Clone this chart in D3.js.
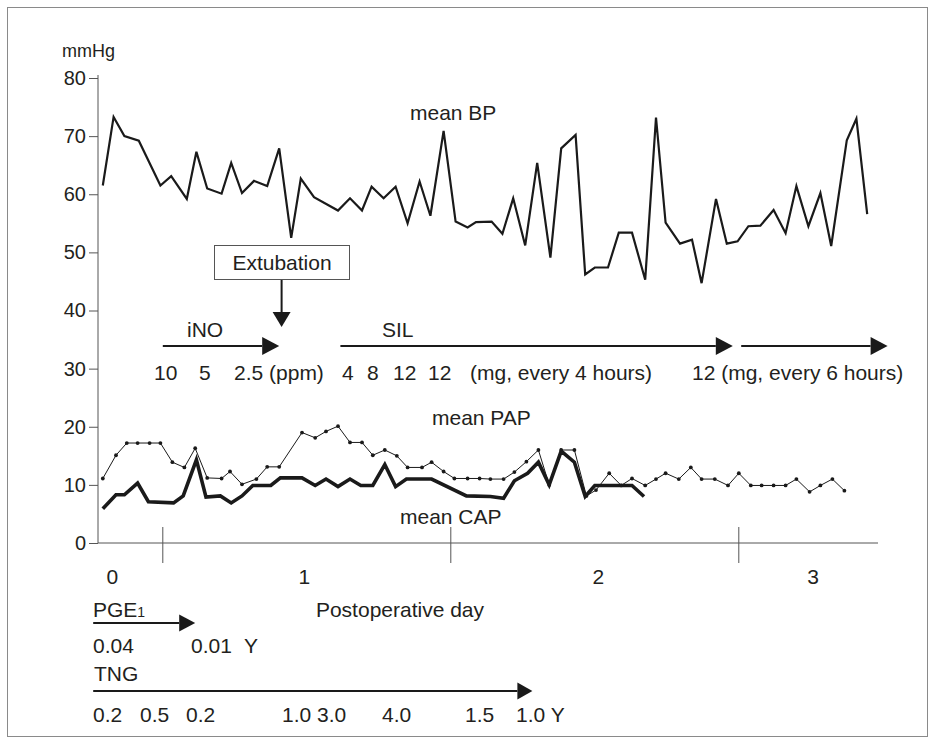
<!DOCTYPE html>
<html>
<head>
<meta charset="utf-8">
<script src="https://cdn.jsdelivr.net/npm/d3@7"></script>
<style>
  body { margin: 0; background: #fff; }
  svg text { font-family: "Liberation Sans", Arial, sans-serif; fill: #231f20; }
</style>
</head>
<body>
<div class="chart"></div>
<script>
// hours after arrival (first reading = 0), value in mmHg
const meanBP = [
  [0.0, 61.5], [0.9, 73.3], [1.8, 70.0], [3.0, 69.2], [4.8, 61.5], [5.7, 63.1],
  [7.0, 59.2], [7.8, 67.3], [8.7, 61.0], [9.9, 60.1], [10.7, 65.4], [11.6, 60.2],
  [12.6, 62.3], [13.7, 61.4], [14.7, 67.9], [15.7, 52.5], [16.5, 62.7], [17.6, 59.5],
  [19.6, 57.2], [20.6, 59.3], [21.6, 57.2], [22.4, 61.3], [23.4, 59.3], [24.4, 61.3],
  [25.4, 55.0], [26.4, 62.2], [27.3, 56.3], [28.4, 70.9], [29.4, 55.3], [30.4, 54.3],
  [31.1, 55.2], [32.4, 55.3], [33.3, 53.2], [34.2, 59.3], [35.2, 51.2], [36.2, 65.4],
  [37.3, 49.1], [38.2, 67.9], [39.4, 70.2], [40.2, 46.2], [41.0, 47.4], [42.1, 47.4],
  [43.0, 53.4], [44.1, 53.4], [45.2, 45.3], [46.1, 73.2], [46.9, 55.1], [48.1, 51.5],
  [49.1, 52.2], [49.9, 44.7], [51.1, 59.2], [52.0, 51.5], [52.9, 51.9], [53.8, 54.5],
  [54.8, 54.6], [55.9, 57.3], [56.9, 53.3], [57.8, 61.4], [58.8, 54.5], [59.8, 60.2],
  [60.7, 51.1], [62.0, 69.3], [62.8, 73.0], [63.7, 56.6]
];

const meanPAP = [
  [0.0, 11.1], [1.1, 15.1], [2.0, 17.2], [2.9, 17.2], [3.9, 17.2], [4.8, 17.2],
  [5.8, 13.9], [6.8, 13.0], [7.7, 16.3], [8.7, 11.2], [9.9, 11.1], [10.6, 12.3],
  [11.6, 10.1], [12.8, 11.0], [13.7, 13.1], [14.7, 13.1], [16.6, 19.0], [17.7, 18.1],
  [18.6, 19.2], [19.6, 20.1], [20.6, 17.3], [21.6, 17.3], [22.5, 15.1], [23.5, 16.0],
  [24.5, 15.0], [25.4, 13.0], [26.6, 13.0], [27.4, 13.9], [28.4, 12.3], [29.3, 11.1],
  [30.4, 11.1], [31.4, 11.1], [32.3, 11.0], [33.4, 11.0], [34.3, 12.2], [35.3, 14.0],
  [36.3, 16.0], [37.2, 10.0], [38.2, 16.0], [39.3, 16.0], [40.3, 8.1], [41.1, 9.1],
  [42.2, 12.0], [43.2, 9.9], [44.1, 11.1], [45.2, 9.9], [46.1, 11.0], [46.9, 12.0],
  [48.0, 11.0], [49.0, 13.0], [49.9, 11.0], [51.0, 11.0], [52.1, 9.9], [53.0, 12.0],
  [54.0, 9.9], [54.9, 9.9], [55.9, 9.9], [56.9, 9.9], [57.8, 11.0], [58.9, 8.8],
  [59.8, 9.9], [60.8, 11.0], [61.8, 9.0]
];

const meanCAP = [
  [0.0, 5.9], [1.1, 8.3], [1.8, 8.3], [2.9, 10.3], [3.8, 7.1], [5.9, 6.9],
  [6.7, 8.1], [7.8, 14.3], [8.6, 7.9], [9.8, 8.1], [10.7, 6.9], [11.6, 8.1],
  [12.5, 9.9], [14.0, 9.9], [14.8, 11.2], [16.6, 11.2], [17.7, 9.9], [18.6, 11.0],
  [19.6, 9.7], [20.6, 11.0], [21.5, 9.9], [22.5, 9.9], [23.5, 13.5], [24.4, 9.7],
  [25.3, 11.0], [27.4, 11.0], [30.3, 8.1], [32.3, 8.0], [33.4, 7.7], [34.3, 10.7],
  [35.4, 12.0], [36.3, 13.9], [37.2, 10.0], [38.2, 15.8], [39.3, 13.9], [40.2, 8.0],
  [41.0, 9.9], [44.1, 9.9], [45.1, 8.0]
];

const yTicks = [0, 10, 20, 30, 40, 50, 60, 70, 80];
const dayBreaks = [5, 29, 53];            // midnight, hours
const dayLabels = ["0", "1", "2", "3"];
const dayLabelHours = [0.8, 16.8, 41.3, 59.2];

// drug annotations
const inoDoses = [["10", 154], ["5", 199], ["2.5 (ppm)", 234]];
const silDoses = [["4", 342], ["8", 367], ["12", 393], ["12", 428],
                  ["(mg, every 4 hours)", 470], ["12 (mg, every 6 hours)", 692]];
const pgeDoses = [["0.04", 93], ["0.01", 191], ["Y", 244]];
const tngDoses = [["0.2", 93], ["0.5", 140], ["0.2", 186], ["1.0", 282],
                  ["3.0", 317], ["4.0", 382], ["1.5", 465], ["1.0 Y", 516]];

const width = 934, height = 744;
const fs = 21;

const svg = d3.select(".chart").append("svg")
  .attr("width", width)
  .attr("height", height);

svg.append("rect")
  .attr("x", 7.5).attr("y", 7.5)
  .attr("width", 920).attr("height", 729)
  .attr("fill", "none").attr("stroke", "#8a8a8a");

const x = d3.scaleLinear().domain([-0.4, 64.6]).range([98, 878]);
const y = d3.scaleLinear().domain([0, 80]).range([543, 78]);

// y axis
const yAxis = svg.append("g")
  .attr("transform", `translate(${x(-0.4)},0)`)
  .call(d3.axisLeft(y).tickValues(yTicks).tickSizeInner(9).tickSizeOuter(0).tickPadding(3));
yAxis.select(".domain").attr("stroke", "#555").attr("d", `M0,${y(0)}V75`);
yAxis.selectAll(".tick line").attr("stroke", "#555");
yAxis.selectAll(".tick text")
  .attr("font-size", 20)
  .attr("font-family", "Liberation Sans, Arial, sans-serif")
  .attr("fill", "#231f20");

svg.append("text").attr("x", 62).attr("y", 57).attr("font-size", 18).text("mmHg");

// x axis with day breaks
svg.append("line")
  .attr("x1", x(-0.4)).attr("x2", x(64.6))
  .attr("y1", y(0)).attr("y2", y(0))
  .attr("stroke", "#555");
svg.selectAll("line.day")
  .data(dayBreaks)
  .enter().append("line")
  .attr("class", "day")
  .attr("x1", d => x(d)).attr("x2", d => x(d))
  .attr("y1", y(0) - 16).attr("y2", y(0) + 20)
  .attr("stroke", "#555");
svg.selectAll("text.day")
  .data(dayLabels)
  .enter().append("text")
  .attr("class", "day")
  .attr("x", (d, i) => x(dayLabelHours[i]))
  .attr("y", 584)
  .attr("text-anchor", "middle")
  .attr("font-size", fs)
  .text(d => d);
svg.append("text").attr("x", 400).attr("y", 617)
  .attr("text-anchor", "middle").attr("font-size", fs)
  .text("Postoperative day");

// series
const line = d3.line().x(d => x(d[0])).y(d => y(d[1]));

svg.append("path").datum(meanBP)
  .attr("d", line).attr("fill", "none")
  .attr("stroke", "#1a1a1a").attr("stroke-width", 2.2);

svg.append("path").datum(meanCAP)
  .attr("d", line).attr("fill", "none")
  .attr("stroke", "#1a1a1a").attr("stroke-width", 3.6);

svg.append("path").datum(meanPAP)
  .attr("d", line).attr("fill", "none")
  .attr("stroke", "#1a1a1a").attr("stroke-width", 1);
svg.selectAll("circle.pap")
  .data(meanPAP)
  .enter().append("circle")
  .attr("class", "pap")
  .attr("cx", d => x(d[0])).attr("cy", d => y(d[1]))
  .attr("r", 1.9).attr("fill", "#1a1a1a");

svg.append("text").attr("x", 410).attr("y", 120).attr("font-size", fs).text("mean BP");
svg.append("text").attr("x", 432).attr("y", 425).attr("font-size", fs).text("mean PAP");
svg.append("text").attr("x", 400).attr("y", 524).attr("font-size", fs).text("mean CAP");

// arrows
function arrow(x1, y1, x2, y2, len, half) {
  const a = Math.atan2(y2 - y1, x2 - x1);
  const bx = x2 - len * Math.cos(a), by = y2 - len * Math.sin(a);
  svg.append("line")
    .attr("x1", x1).attr("y1", y1).attr("x2", bx).attr("y2", by)
    .attr("stroke", "#1a1a1a").attr("stroke-width", 2);
  const px = -Math.sin(a) * half, py = Math.cos(a) * half;
  svg.append("path")
    .attr("d", `M${x2},${y2}L${bx + px},${by + py}L${bx - px},${by - py}Z`)
    .attr("fill", "#1a1a1a");
}

const arrowY = 346;
arrow(x(5.0), arrowY, x(14.7), arrowY, 17, 9);
arrow(x(19.8), arrowY, x(52.5), arrowY, 17, 9);
arrow(x(53.2), arrowY, x(65.4), arrowY, 17, 9);

svg.append("text").attr("x", 187).attr("y", 337).attr("font-size", fs).text("iNO");
svg.append("text").attr("x", 382).attr("y", 337).attr("font-size", fs).text("SIL");

svg.selectAll("text.dose")
  .data(inoDoses.concat(silDoses))
  .enter().append("text")
  .attr("class", "dose")
  .attr("x", d => d[1]).attr("y", 380)
  .attr("font-size", fs)
  .text(d => d[0]);

// extubation
svg.append("rect")
  .attr("x", 214.5).attr("y", 245.5)
  .attr("width", 135).attr("height", 34)
  .attr("fill", "#fff").attr("stroke", "#555");
svg.append("text").attr("x", 282).attr("y", 270)
  .attr("text-anchor", "middle").attr("font-size", fs).text("Extubation");
arrow(x(14.9), 280, x(14.9), 327, 15, 9);

// PGE1 and TNG
const pge = svg.append("text").attr("x", 93).attr("y", 617).attr("font-size", fs);
pge.append("tspan").text("PGE");
pge.append("tspan").attr("font-size", 14).text("1");
arrow(x(-0.8), 623, x(7.7), 623, 16, 8.5);
svg.selectAll("text.pge")
  .data(pgeDoses)
  .enter().append("text")
  .attr("class", "pge")
  .attr("x", d => d[1]).attr("y", 653)
  .attr("font-size", fs)
  .text(d => d[0]);

svg.append("text").attr("x", 94).attr("y", 681).attr("font-size", fs).text("TNG");
arrow(x(-0.8), 691, x(35.8), 691, 15, 8.5);
svg.selectAll("text.tng")
  .data(tngDoses)
  .enter().append("text")
  .attr("class", "tng")
  .attr("x", d => d[1]).attr("y", 722)
  .attr("font-size", fs)
  .text(d => d[0]);
</script>
</body>
</html>
